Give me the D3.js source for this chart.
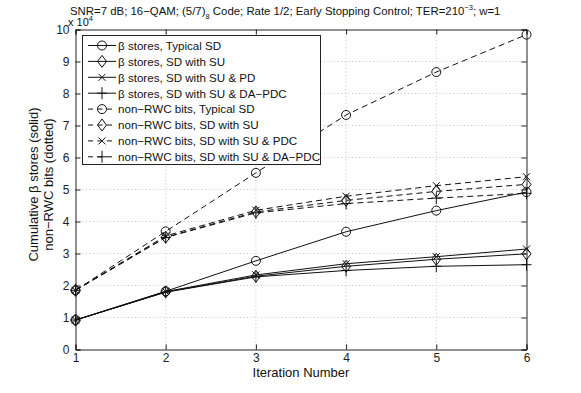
<!DOCTYPE html>
<html><head><meta charset="utf-8">
<script src="https://cdn.jsdelivr.net/npm/d3@7"></script>
<style>body{margin:0;background:#fff;} svg{display:block;} text{font-family:"Liberation Sans",Arial,sans-serif;}</style>
</head><body><svg id="c" width="581" height="393"></svg>
<script>
const iterations = [1, 2, 3, 4, 5, 6];
const yTicks = [0,1,2,3,4,5,6,7,8,9,10];
// values in units of 1e4
const betaTypical   = [0.92, 1.82, 2.77, 3.68, 4.34, 4.92];
const betaSU        = [0.92, 1.80, 2.29, 2.60, 2.82, 2.99];
const betaSUPD      = [0.92, 1.81, 2.33, 2.68, 2.90, 3.14];
const betaSUDAPDC   = [0.92, 1.79, 2.27, 2.47, 2.60, 2.65];
const nonTypical    = [1.85, 3.69, 5.52, 7.33, 8.67, 9.84];
const nonSU         = [1.85, 3.51, 4.30, 4.66, 4.94, 5.16];
const nonSUPDC      = [1.85, 3.55, 4.35, 4.79, 5.12, 5.40];
const nonSUDAPDC    = [1.85, 3.50, 4.27, 4.56, 4.73, 4.88];
const seriesNames = ["β stores, Typical SD","β stores, SD with SU","β stores, SD with SU & PD","β stores, SD with SU & DA−PDC",
  "non−RWC bits, Typical SD","non−RWC bits, SD with SU","non−RWC bits, SD with SU & PDC","non−RWC bits, SD with SU & DA−PDC"];
const seriesVals = [betaTypical,betaSU,betaSUPD,betaSUDAPDC,nonTypical,nonSU,nonSUPDC,nonSUDAPDC];
const markers = ["o","d","x","+","o","d","x","+"];
const dashed = [false,false,false,false,true,true,true,true];

const svg = d3.select("#c");
const L=75.5, R=526.5, T=29.5, B=349.5;
const x = d3.scaleLinear().domain([1,6]).range([L,R]);
const y = d3.scaleLinear().domain([0,10]).range([B,T]);

// grid
const g = svg.append("g");
g.selectAll(".gx").data(iterations.slice(1,-1)).enter().append("line")
 .attr("x1",d=>x(d)).attr("x2",d=>x(d)).attr("y1",T).attr("y2",B)
 .attr("stroke","#bbb").attr("stroke-width",0.8).attr("stroke-dasharray","1,2.5");
g.selectAll(".gy").data(yTicks.slice(1,-1)).enter().append("line")
 .attr("y1",d=>y(d)).attr("y2",d=>y(d)).attr("x1",L).attr("x2",R)
 .attr("stroke","#bbb").attr("stroke-width",0.8).attr("stroke-dasharray","1,2.5");

// axes
const xa = svg.append("g").attr("transform",`translate(0,${B})`)
 .call(d3.axisBottom(x).tickValues(iterations).tickSize(-5).tickPadding(4).tickFormat(d3.format("d")));
const xt = svg.append("g").attr("transform",`translate(0,${T})`)
 .call(d3.axisTop(x).tickValues(iterations).tickSize(-5).tickFormat(""));
const ya = svg.append("g").attr("transform",`translate(${L},0)`)
 .call(d3.axisLeft(y).tickValues(yTicks).tickSize(-5).tickPadding(6).tickFormat(d3.format("d")));
const yr = svg.append("g").attr("transform",`translate(${R},0)`)
 .call(d3.axisRight(y).tickValues(yTicks).tickSize(-5).tickFormat(""));
[xa,xt,ya,yr].forEach(a=>{a.select(".domain").attr("stroke","#222").attr("stroke-width",1);
  a.selectAll(".tick line").attr("stroke","#222");
  a.selectAll("text").attr("font-size",12).attr("fill","#222").attr("font-family","Liberation Sans, Arial, sans-serif");});

function drawMarker(sel, m, cx, cy){
  const s = sel.append("g").attr("transform",`translate(${cx},${cy})`).attr("fill","none").attr("stroke","#111").attr("stroke-width",1);
  if(m==="o") s.append("circle").attr("r",4.5);
  else if(m==="d") s.append("path").attr("d","M0,-6L4.5,0L0,6L-4.5,0Z");
  else if(m==="x") s.append("path").attr("d","M-3.5,-3.5L3.5,3.5M-3.5,3.5L3.5,-3.5");
  else if(m==="+") s.append("path").attr("d","M-5,0L5,0M0,-6L0,6");
}

const line = d3.line().x((d,i)=>x(iterations[i])).y(d=>y(d));
const plot = svg.append("g");
seriesVals.forEach((vals,k)=>{
  plot.append("path").attr("d",line(vals)).attr("fill","none").attr("stroke","#111").attr("stroke-width",1)
   .attr("stroke-dasharray",dashed[k]?"6,4":null);
  vals.forEach((v,i)=>drawMarker(plot,markers[k],x(iterations[i]),y(v)));
});

// legend
const lg = svg.append("g");
lg.append("rect").attr("x",82.5).attr("y",35.5).attr("width",238).attr("height",129).attr("fill","#fff").attr("stroke","#222").attr("stroke-width",1);
seriesNames.forEach((nm,k)=>{
  const yy = 45.5 + k*15.9;
  lg.append("line").attr("x1",88).attr("x2",116).attr("y1",yy).attr("y2",yy).attr("stroke","#111").attr("stroke-width",1)
    .attr("stroke-dasharray",dashed[k]?"5,4.5":null);
  drawMarker(lg,markers[k],102,yy);
  lg.append("text").attr("x",118).attr("y",yy+4.3).attr("font-size",11.6).attr("fill","#111").text(nm);
});

// title
const title = svg.append("text").attr("x",70).attr("y",15).attr("text-anchor","start").attr("font-size",11.4).attr("fill","#111");
title.append("tspan").text("SNR=7 dB; 16−QAM;  (5/7)");
title.append("tspan").attr("font-size",7.5).attr("dy",4).text("8");
title.append("tspan").attr("dy",-4).text(" Code; Rate 1/2; Early Stopping Control; TER=210");
title.append("tspan").attr("font-size",7.5).attr("dy",-5).text("−3");
title.append("tspan").attr("dy",5).text("; w=1");

// exponent
const ex = svg.append("text").attr("x",68).attr("y",26).attr("font-size",11).attr("fill","#111");
ex.append("tspan").text("x 10");
ex.append("tspan").attr("font-size",7.5).attr("dy",-5).text("4");

// axis labels
svg.append("text").attr("x",(L+R)/2).attr("y",377).attr("text-anchor","middle").attr("font-size",13).attr("fill","#111").text("Iteration Number");
const yl = svg.append("text").attr("transform",`translate(38,${(T+B)/2 - 5}) rotate(-90)`).attr("text-anchor","middle").attr("font-size",13).attr("fill","#111");
yl.append("tspan").attr("x",0).attr("dy",0).text("Cumulative β stores (solid)");
yl.append("tspan").attr("x",0).attr("dy",15).text("non−RWC bits (dotted)");
</script></body></html>
